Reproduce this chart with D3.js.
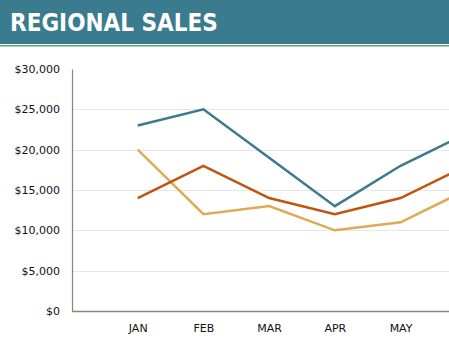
<!DOCTYPE html>
<html><head><meta charset="utf-8">
<script src="https://cdn.jsdelivr.net/npm/d3@7"></script>
<style>body{margin:0;background:#fff}svg{display:block}</style>
</head><body>
<svg id="c" width="449" height="347"></svg>
<script>
const title = "REGIONAL SALES";
const months = ["JAN","FEB","MAR","APR","MAY","JUN"];
const yTicks = [0,5000,10000,15000,20000,25000,30000];
const seriesTeal = [23000,25000,19000,13000,18000,22000];
const seriesOrange = [14000,18000,14000,12000,14000,18000];
const seriesGold = [20000,12000,13000,10000,11000,15000];
const series = [
  {values: seriesGold, color: "#e0a955"},
  {values: seriesOrange, color: "#c0540f"},
  {values: seriesTeal, color: "#3b7b8d"}
];
const W = 449, H = 347;

const svg = d3.select("#c");
// header
svg.append("rect").attr("x",0).attr("y",0).attr("width",W).attr("height",44).attr("fill","#3a7b8e");
svg.append("rect").attr("x",0).attr("y",45).attr("width",W).attr("height",1.5).attr("fill","#5f9e72");
svg.append("text").attr("x",10).attr("y",30.5).text(title)
  .attr("fill","#fff").attr("font-family","'DejaVu Sans Condensed','DejaVu Sans'")
  .attr("font-weight","bold").attr("font-size",24);

const x = d3.scalePoint().domain(months).range([72,532]).padding(1);
const y = d3.scaleLinear().domain([0,30000]).range([311,69]);

// gridlines
svg.append("g").selectAll("line").data(yTicks.filter(d=>d>0 && d<30000)).join("line")
  .attr("x1",73).attr("x2",W).attr("y1",d=>Math.round(y(d))+0.5).attr("y2",d=>Math.round(y(d))+0.5)
  .attr("stroke","#e6e6e6").attr("stroke-width",1);

// y axis
const yAxis = d3.axisLeft(y).tickValues(yTicks).tickSize(0).tickPadding(12)
  .tickFormat(d=>"$"+d3.format(",")(d));
const ya = svg.append("g").attr("transform","translate(72,0)").call(yAxis);
ya.select(".domain").attr("stroke","#8c8478").attr("stroke-width",1.2);
ya.selectAll("text").attr("font-family","'DejaVu Sans'").attr("font-size",11).attr("fill","#111");

// x axis (only labels whose position fits inside the picture)
const xAxis = d3.axisBottom(x).tickSize(0).tickPadding(13)
  .tickValues(months.filter(m => x(m) + 12 < W));
const xa = svg.append("g").attr("transform","translate(0,311)").call(xAxis);
xa.select(".domain").remove();
xa.selectAll("text").attr("font-family","'DejaVu Sans'").attr("font-size",11).attr("fill","#111");
svg.append("line").attr("x1",72).attr("x2",W).attr("y1",311.5).attr("y2",311.5)
  .attr("stroke","#8c8478").attr("stroke-width",1.5);

// lines
const line = d3.line().x((d,i)=>x(months[i])).y(d=>y(d));
svg.append("g").selectAll("path").data(series).join("path")
  .attr("d",d=>line(d.values)).attr("fill","none").attr("stroke",d=>d.color)
  .attr("stroke-width",2.5).attr("stroke-linejoin","miter");
</script>
</body></html>
